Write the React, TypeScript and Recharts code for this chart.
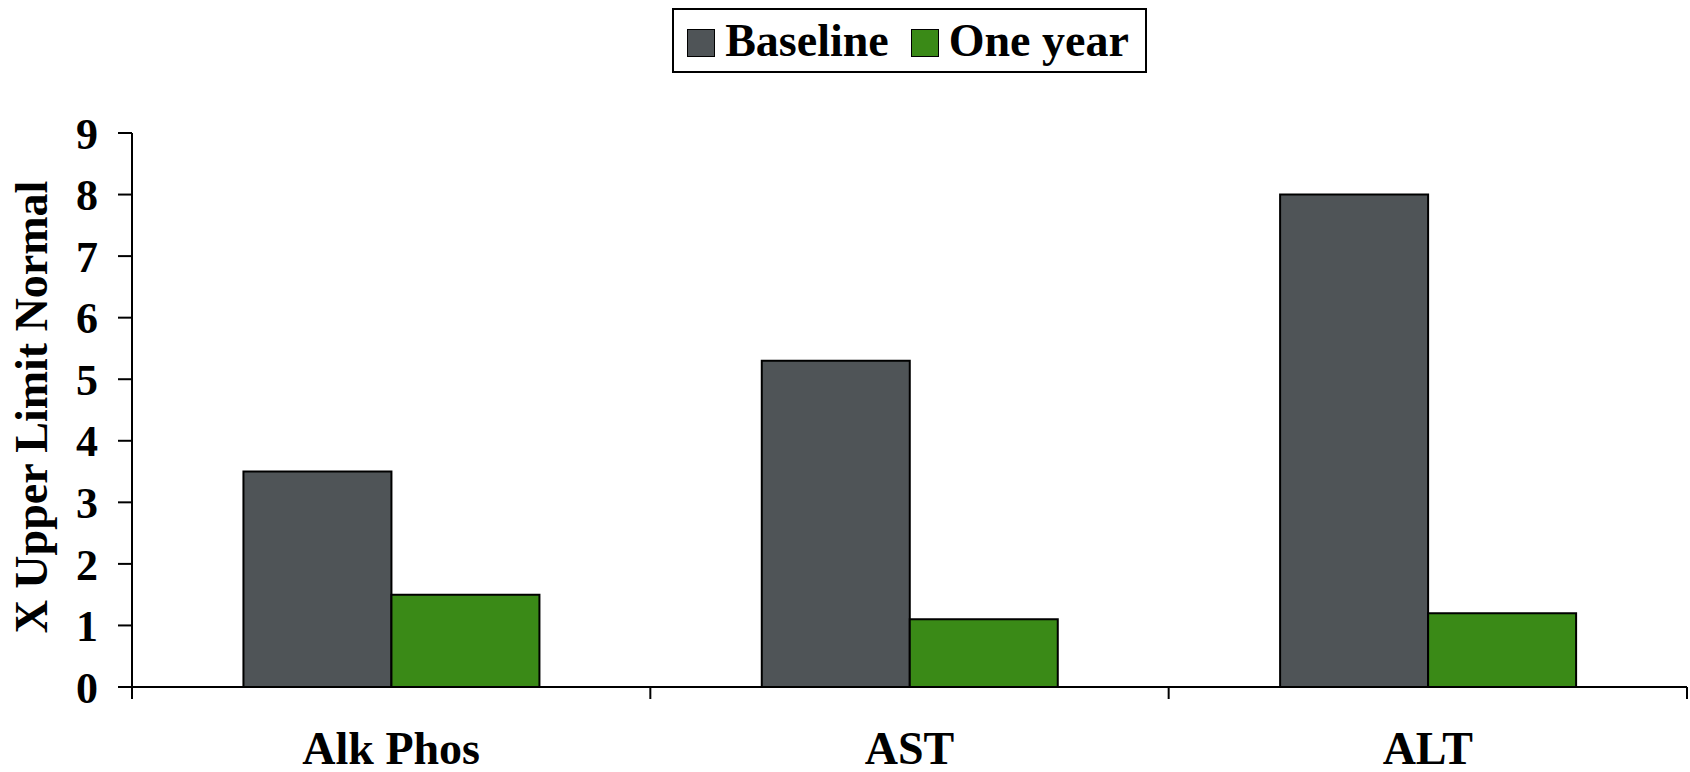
import React from 'react';
import { BarChart, Bar, XAxis, YAxis, Legend } from 'recharts';

const categories = ['Alk Phos', 'AST', 'ALT'];
const baselineValues = [3.5, 5.3, 8.0];
const oneYearValues = [1.5, 1.1, 1.2];
const yTicks = [0, 1, 2, 3, 4, 5, 6, 7, 8, 9];
const seriesNames = ['Baseline', 'One year'];
const seriesColors = ['#4F5457', '#3A8A17'];

const data = categories.map((c, i) => ({
  name: c,
  baseline: baselineValues[i],
  oneYear: oneYearValues[i],
}));

const FONT = '"Liberation Serif", "Times New Roman", serif';

const XTick = (props: any) => {
  const { x, y, payload, index } = props;
  const off = payload && payload.offset ? payload.offset : 0;
  return (
    <g>
      <line x1={x - off} y1={y} x2={x - off} y2={y + 12} stroke="#000" strokeWidth={2} />
      {index === categories.length - 1 && (
        <line x1={x + off} y1={y} x2={x + off} y2={y + 12} stroke="#000" strokeWidth={2} />
      )}
      <text
        x={x}
        y={y + 77}
        textAnchor="middle"
        fontFamily={FONT}
        fontWeight="bold"
        fontSize={46}
        fill="#000"
      >
        {payload.value}
      </text>
    </g>
  );
};

const LegendContent = (props: any) => {
  const payload = props.payload || [];
  return (
    <div style={{ display: 'flex', justifyContent: 'center' }}>
      <div
        style={{
          display: 'flex',
          alignItems: 'center',
          border: '2px solid #000',
          height: 61,
          padding: '0 16px 0 13px',
          boxSizing: 'content-box',
          background: '#fff',
        }}
      >
        {payload.map((p: any, i: number) => (
          <div key={i} style={{ display: 'flex', alignItems: 'center', marginLeft: i === 0 ? 0 : 22 }}>
            <div
              style={{
                width: 26,
                height: 26,
                background: p.color,
                border: '1.5px solid #000',
                marginRight: 10,
                marginTop: 4,
              }}
            />
            <span
              style={{
                fontFamily: FONT,
                fontWeight: 'bold',
                fontSize: 46,
                color: '#000',
                lineHeight: '61px',
              }}
            >
              {p.value}
            </span>
          </div>
        ))}
      </div>
    </div>
  );
};

const YLabel = (props: any) => {
  const vb = props.viewBox || { x: 0, y: 133, width: 132, height: 554 };
  const cx = 47;
  const cy = vb.y + vb.height / 2 - 3;
  return (
    <text
      x={cx}
      y={cy}
      transform={`rotate(-90, ${cx}, ${cy})`}
      textAnchor="middle"
      fontFamily={FONT}
      fontWeight="bold"
      fontSize={46}
      fill="#000"
    >
      X Upper Limit Normal
    </text>
  );
};

export default function App() {
  return (
    <div style={{ position: 'absolute', left: 0, top: 0, width: 1690, height: 772, background: '#fff' }}>
      <BarChart
        width={1690}
        height={772}
        data={data}
        margin={{ top: 133, right: 3, bottom: 0, left: 0 }}
        barCategoryGap="21.5%"
        barGap={0}
      >
        <XAxis
          dataKey="name"
          height={85}
          axisLine={{ stroke: '#000', strokeWidth: 2 }}
          tickLine={false}
          tickSize={0}
          tickMargin={0}
          tick={<XTick />}
          interval={0}
        />
        <YAxis
          width={132}
          domain={[0, 9]}
          ticks={yTicks}
          interval={0}
          axisLine={{ stroke: '#000', strokeWidth: 2 }}
          tickLine={{ stroke: '#000', strokeWidth: 2 }}
          tickSize={14}
          tickMargin={20}
          tick={{ fontFamily: FONT, fontWeight: 'bold', fontSize: 44, fill: '#000' }}
          label={<YLabel />}
        />
        <Legend
          verticalAlign="middle"
          align="center"
          content={<LegendContent />}
          wrapperStyle={{ position: 'absolute', top: 8, left: 132, width: 1555 }}
        />
        <Bar
          dataKey="baseline"
          name={seriesNames[0]}
          fill={seriesColors[0]}
          stroke="#000"
          strokeWidth={2}
          isAnimationActive={false}
        />
        <Bar
          dataKey="oneYear"
          name={seriesNames[1]}
          fill={seriesColors[1]}
          stroke="#000"
          strokeWidth={2}
          isAnimationActive={false}
        />
      </BarChart>
    </div>
  );
}
